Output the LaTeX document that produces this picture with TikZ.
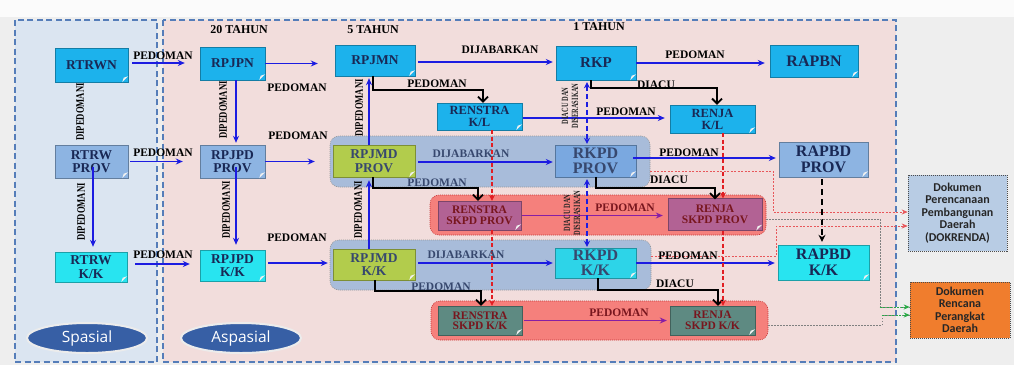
\documentclass[tikz,border=0pt]{standalone}
\usepackage{fontspec}
\setmainfont{Liberation Serif}
\newfontfamily\osans{Open Sans}
\newfontfamily\carl{Carlito}
\usetikzlibrary{arrows.meta,calc,shapes.geometric}

\definecolor{bg}{RGB}{238,238,238}
\definecolor{panelL}{RGB}{219,229,241}
\definecolor{panelR}{RGB}{242,221,220}
\definecolor{dashc}{RGB}{85,125,185}
\definecolor{cyanN}{RGB}{28,178,236}
\definecolor{provB}{RGB}{141,180,226}
\definecolor{provB2}{RGB}{122,168,224}
\definecolor{kkT}{RGB}{40,228,240}
\definecolor{kkT2}{RGB}{45,212,232}
\definecolor{greenM}{RGB}{178,204,76}
\definecolor{mauve}{RGB}{178,98,148}
\definecolor{tealg}{RGB}{94,138,130}
\definecolor{grpB}{RGB}{168,188,218}
\definecolor{grpP}{RGB}{245,128,124}
\definecolor{arrB}{RGB}{28,28,225}
\definecolor{arrP}{RGB}{135,30,165}
\definecolor{arrR}{RGB}{225,30,35}
\definecolor{navy}{RGB}{25,40,85}
\definecolor{slate}{RGB}{55,72,110}
\definecolor{maroon}{RGB}{120,22,30}
\definecolor{dokb}{RGB}{184,204,228}
\definecolor{orng}{RGB}{240,125,45}
\definecolor{ellB}{RGB}{55,95,165}
\definecolor{greenA}{RGB}{40,170,70}

\tikzset{
  nd/.style={fill=#1, draw=#1!70!black, line width=0.4pt, inner sep=0pt, align=center,
    text=navy, font=\fontsize{13.5}{13.5}\selectfont\bfseries},
  bigt/.style={font=\fontsize{16}{15.5}\selectfont\bfseries},
  midt/.style={font=\fontsize{12.5}{12}\selectfont\bfseries},
  smt/.style={font=\fontsize{11.5}{10.5}\selectfont\bfseries},
  lbl/.style={font=\fontsize{11.5}{12}\selectfont\bfseries, inner sep=0pt, text=black},
  vlbl/.style={rotate=90, font=\fontsize{11.5}{12}\selectfont\bfseries, inner sep=0pt, text=black},
  vlbl2/.style={rotate=90, font=\fontsize{9.5}{10}\selectfont\bfseries, inner sep=0pt, align=center, text=black!85},
  panel/.style={draw=dashc, line width=1.5pt, dash pattern=on 6pt off 3.5pt},
  grpb/.style={fill=grpB, draw=gray!80, line width=0.6pt, dash pattern=on 1pt off 1pt, rounded corners=9pt, inner sep=0pt},
  grpp/.style={fill=grpP, draw=red!55!gray, line width=0.6pt, dash pattern=on 1pt off 1pt, rounded corners=9pt, inner sep=0pt},
  barrow/.style={draw=arrB, line width=1.6pt, -{Stealth[length=7pt,width=6pt]}},
  parrow/.style={draw=arrP, line width=1.6pt, -{Stealth[length=7pt,width=6pt]}},
  karrow/.style={draw=black, line width=1.8pt, -{Straight Barb[length=5pt,width=10pt,line width=1.8pt]}},
  rdash/.style={draw=arrR, line width=1.8pt, dash pattern=on 4pt off 2.5pt, -{Stealth[length=6pt,width=6pt]}},
  bdash/.style={draw=arrB, line width=1.8pt, dash pattern=on 5pt off 3pt, {Stealth[length=6pt,width=6pt]}-{Stealth[length=6pt,width=6pt]}},
  kdash/.style={draw=black, line width=2.4pt, dash pattern=on 6pt off 4pt, -{Stealth[length=7pt,width=7pt]}},
  thinr/.style={draw=arrR!75, line width=0.7pt, dash pattern=on 2pt off 1.5pt, -{Stealth[length=6pt,width=5pt]}},
  thing/.style={draw=gray, line width=0.7pt, dash pattern=on 1.5pt off 1.5pt},
  gdash/.style={draw=greenA, line width=0.8pt, dash pattern=on 2pt off 1.5pt, -{Stealth[length=6pt,width=5pt]}},
  ell/.style={ellipse, fill=ellB, draw=white!85!gray, line width=2pt, text=white,
    font=\osans\fontsize{15.5}{16}\selectfont, minimum width=120pt, minimum height=30pt, inner sep=0pt},
  dok/.style={draw=black!70, line width=0.6pt, dash pattern=on 1pt off 1pt, align=center, inner sep=0pt,
    font=\carl\bfseries\fontsize{12}{12.5}\selectfont, text=black!85},
}

\begin{document}
\begin{tikzpicture}[x=1pt,y=-1pt]
\useasboundingbox (0,0) rectangle (1014,365);
\fill[bg] (0,0) rectangle (1014,365);
\fill[white!97!gray] (0,0) rectangle (1014,17);

% panels
\draw[panel, fill=panelL] (15,20) rectangle (157,362);
\draw[panel, fill=panelR] (163,20) rectangle (896,362);

% period headings
\node[lbl, font=\fontsize{12}{12}\selectfont\bfseries] (t20) at (239,30) {20 TAHUN};
\node[lbl, font=\fontsize{12}{12}\selectfont\bfseries] (t5) at (373,30) {5 TAHUN};
\node[lbl, font=\fontsize{12}{12}\selectfont\bfseries] (t1) at (599,27) {1 TAHUN};

% groups
\node[grpb, minimum width=320pt, minimum height=51pt] (gprov) at (490,161.5) {};
\node[grpb, minimum width=321pt, minimum height=50pt] (gkk) at (490.5,265) {};
\node[grpp, minimum width=336pt, minimum height=40pt] (pprov) at (598,215) {};
\node[grpp, minimum width=337pt, minimum height=39pt] (pkk) at (599.5,320.5) {};

% nodes
\node[nd=cyanN, minimum width=73pt, minimum height=34pt] (RTRWN) at (91.5,65) {RTRWN};
\node[nd=cyanN, minimum width=65pt, minimum height=33pt] (RPJPN) at (232.5,63.5) {RPJPN};
\node[nd=provB, minimum width=73pt, minimum height=33pt] (RTRWprov) at (91.5,161.5) {RTRW\\PROV};
\node[nd=provB, minimum width=65pt, minimum height=33pt] (RPJPDprov) at (232.5,161.5) {RPJPD\\PROV};
\node[nd=kkT, minimum width=72pt, minimum height=30pt] (RTRWkk) at (91,267) {RTRW\\K/K};
\node[nd=kkT, minimum width=65pt, minimum height=31pt] (RPJPDkk) at (232.5,265.5) {RPJPD\\K/K};
\node[nd=cyanN, minimum width=80pt, minimum height=31pt] (RPJMN) at (375,60.5) {RPJMN};
\node[nd=cyanN, bigt, font=\fontsize{15}{15}\selectfont\bfseries, minimum width=80pt, minimum height=34pt] (RKP) at (596,63) {RKP};
\node[nd=cyanN, bigt, minimum width=88pt, minimum height=32pt] (RAPBN) at (814,61) {RAPBN};
\node[nd=cyanN, midt, minimum width=85pt, minimum height=27pt] (RENSTRAKL) at (479.5,116.5) {RENSTRA\\K/L};
\node[nd=cyanN, midt, minimum width=85pt, minimum height=28pt] (RENJAKL) at (712.5,119) {RENJA\\K/L};
\node[nd=greenM, text=slate, minimum width=82pt, minimum height=32pt] (RPJMDprov) at (374,161) {RPJMD\\PROV};
\node[nd=provB2, bigt, text=slate, minimum width=81pt, minimum height=32pt] (RKPDprov) at (595.5,161) {RKPD\\PROV};
\node[nd=provB, bigt, minimum width=89pt, minimum height=35pt] (RAPBDprov) at (823.5,159.5) {RAPBD\\PROV};
\node[nd=mauve, smt, text=maroon, minimum width=83pt, minimum height=29pt] (RENSTRASKPDprov) at (479.5,215.5) {RENSTRA\\SKPD PROV};
\node[nd=mauve, smt, text=maroon, minimum width=94pt, minimum height=32pt] (RENJASKPDprov) at (715,214.5) {RENJA\\SKPD PROV};
\node[nd=greenM, text=slate, minimum width=82pt, minimum height=31pt] (RPJMDkk) at (374,264.5) {RPJMD\\K/K};
\node[nd=kkT2, bigt, text=slate, minimum width=81pt, minimum height=30pt] (RKPDkk) at (595.5,263) {RKPD\\K/K};
\node[nd=kkT, bigt, minimum width=91pt, minimum height=35pt] (RAPBDkk) at (823.5,262.5) {RAPBD\\K/K};
\node[nd=tealg, smt, text=maroon, minimum width=84pt, minimum height=29pt] (RENSTRASKPDkk) at (480,320.5) {RENSTRA\\SKPD K/K};
\node[nd=tealg, smt, text=maroon, minimum width=85pt, minimum height=29pt] (RENJASKPDkk) at (712.5,320.5) {RENJA\\SKPD K/K};

% folded corners
\foreach \n in {RTRWN,RPJPN,RTRWprov,RPJPDprov,RTRWkk,RPJPDkk,RPJMN,RKP,RAPBN,RENSTRAKL,RENJAKL,RPJMDprov,RKPDprov,RAPBDprov,RENSTRASKPDprov,RENJASKPDprov,RPJMDkk,RKPDkk,RAPBDkk,RENSTRASKPDkk,RENJASKPDkk}{
  \fill[white!88!gray] ($(\n.south east)+(-6,0)$) -- ($(\n.south east)+(0,-6)$) -- ($(\n.south east)+(-4.5,-4.5)$) -- cycle;
}

% right boxes
\node[dok, fill=dokb, minimum width=99pt, minimum height=76pt] (DOK) at (957.5,213) {Dokumen\\Perencanaan\\Pembangunan\\Daerah\\(DOKRENDA)};
\node[dok, fill=orng, minimum width=100pt, minimum height=56pt] (DRPD) at (960,310) {Dokumen\\Rencana\\Perangkat\\Daerah};

% ellipses
\node[ell] (spa) at (87,338) {Spasial};
\node[ell] (aspa) at (241,338) {Aspasial};

% blue horizontal arrows
\draw[barrow, shorten <=4pt, shorten >=15pt] ([yshift=2pt]RTRWN.east) -- ([yshift=2pt]RTRWN.east -| RPJPN.west);
\draw[barrow, shorten >=17pt] (RPJPN.east) -- (RPJPN.east -| RPJMN.west);
\draw[barrow, shorten <=2pt, shorten >=17pt] (RTRWprov.east) -- (RTRWprov.east -| RPJPDprov.west);
\draw[barrow, shorten >=18pt] (RPJPDprov.east) -- (RPJPDprov.east -| RPJMDprov.west);
\draw[barrow, shorten <=8pt, shorten >=10pt] ([yshift=3pt]RTRWkk.east) -- ([yshift=3pt]RTRWkk.east -| RPJPDkk.west);
\draw[barrow, shorten <=3pt, shorten >=5pt] ([yshift=2.5pt]RPJPDkk.east) -- ([yshift=2.5pt]RPJPDkk.east -| RPJMDkk.west);
\draw[barrow, shorten <=3pt, shorten >=3pt] ([yshift=-1.5pt]RPJMN.east) -- ([yshift=-1.5pt]RPJMN.east -| RKP.west);
\draw[barrow, shorten >=5pt] (RKP.east) -- (RKP.east -| RAPBN.west);
\draw[barrow, shorten <=1pt, shorten >=5pt] ([yshift=-1.5pt]RENSTRAKL.east) -- ([yshift=-1.5pt]RENSTRAKL.east -| RENJAKL.west);
\draw[barrow, shorten <=3pt, shorten >=2pt] ([yshift=-1pt]RPJMDprov.east) -- ([yshift=-1pt]RPJMDprov.east -| RKPDprov.west);
\draw[barrow, shorten <=-3pt, shorten >=3pt] ([yshift=3pt]RKPDprov.east) -- ([yshift=3pt]RKPDprov.east -| RAPBDprov.west);
\draw[barrow, shorten <=3pt, shorten >=2pt] ([yshift=1.5pt]RPJMDkk.east) -- ([yshift=1.5pt]RPJMDkk.east -| RKPDkk.west);
\draw[barrow, shorten >=3pt] (RKPDkk.east) -- (RKPDkk.east -| RAPBDkk.west);
\draw[parrow, shorten <=1pt, shorten >=5pt] (RENSTRASKPDprov.east) -- (RENSTRASKPDprov.east -| RENJASKPDprov.west);
\draw[parrow, shorten <=2pt, shorten >=3pt] (RENSTRASKPDkk.east) -- (RENSTRASKPDkk.east -| RENJASKPDkk.west);

% blue vertical arrows
\draw[barrow, shorten >=2pt] ([xshift=3.5pt]RPJPN.south) -- ([xshift=3.5pt]RPJPDprov.north);
\draw[barrow, shorten >=2pt] ([xshift=-5pt]RPJMDprov.north) -- ([xshift=-6pt]RPJMN.south);
\draw[barrow, shorten >=3pt] ([xshift=-5pt]RPJMDkk.north) -- ([xshift=-5pt]RPJMDprov.south);
\draw[barrow, shorten >=5pt] ([xshift=1.5pt,yshift=-5.5pt]RTRWprov.center) -- ([xshift=2pt]RTRWkk.north);
\draw[barrow, shorten >=5pt] ([xshift=3.5pt,yshift=-5.5pt]RPJPDprov.center) -- ([xshift=3.5pt]RPJPDkk.north);

% black elbow arrows
\draw[karrow] ([xshift=-2pt]RPJMN.south) -- ++(0,14) -| ([xshift=3.5pt]RENSTRAKL.north);
\draw[karrow] ([xshift=-5pt]RKP.south) -- ++(0,8) -| ([xshift=4.5pt]RENJAKL.north);
\draw[karrow] ([xshift=-1pt]RPJMDprov.south) -- ++(0,11) -| ([xshift=-1.5pt]RENSTRASKPDprov.north);
\draw[karrow] ([xshift=0.5pt]RKPDprov.south) -- ++(0,11) -| ([yshift=-1pt]RENJASKPDprov.north);
\draw[karrow] ([xshift=1pt]RPJMDkk.south) -- ++(0,11) -| ([xshift=1pt]RENSTRASKPDkk.north);
\draw[karrow] ([xshift=2.5pt]RKPDkk.south) -- ++(0,12) -| ([xshift=5.5pt]RENJASKPDkk.north);

% red dashed
\draw[rdash] ([xshift=12.5pt]RENSTRAKL.south) -- ([xshift=12.5pt]RENSTRASKPDprov.north);
\draw[rdash] ([xshift=12.5pt]RENSTRASKPDprov.south) -- ([xshift=12pt]RENSTRASKPDkk.north);
\draw[rdash] ([xshift=10.5pt]RENJAKL.south) -- ([xshift=8pt]RENJASKPDprov.north);
\draw[rdash] ([xshift=8pt]RENJASKPDprov.south) -- ([xshift=10.5pt]RENJASKPDkk.north);

% blue dashed double
\draw[bdash, shorten <=2pt, shorten >=1pt] ([xshift=-9pt]RKP.south) -- ([xshift=-8.5pt]RKPDprov.north);
\draw[bdash, shorten <=2pt, shorten >=1pt] ([xshift=-8.5pt]RKPDprov.south) -- ([xshift=-8.5pt]RKPDkk.north);

% black dashed
\draw[kdash, shorten <=2pt, shorten >=3pt] ([xshift=-1.5pt]RAPBDprov.south) -- ([xshift=-1.5pt]RAPBDkk.north);

% thin connectors to right boxes
\draw[thinr] ([yshift=-9.5pt]gprov.east) -- ++(123,0) |- ([yshift=1pt]DOK.west);
\draw[thinr] ([yshift=9pt]gkk.east) -- ++(125,0) |- ([yshift=-13pt]DOK.west);
\draw[thing] ([yshift=-4pt]pprov.east) -- ++(114,0) |- ([yshift=3pt]DRPD.west);
\draw[thing] ([yshift=-4.5pt]pkk.east) -- ++(114,0) |- ([yshift=-5pt]DRPD.west);
\draw[gdash] ([xshift=-30pt,yshift=3pt]DRPD.west) -- ([yshift=3pt]DRPD.west);
\draw[gdash] ([xshift=-28pt,yshift=-5pt]DRPD.west) -- ([yshift=-5pt]DRPD.west);

% labels
\node[lbl] (l1) at (163,56) {PEDOMAN};
\node[lbl] (l2) at (297,88) {PEDOMAN};
\node[lbl] (l3) at (163,153) {PEDOMAN};
\node[lbl] (l4) at (298,136) {PEDOMAN};
\node[lbl] (l5) at (163,255) {PEDOMAN};
\node[lbl] (l6) at (297,238) {PEDOMAN};
\node[lbl] (l7) at (500,50) {DIJABARKAN};
\node[lbl] (l8) at (695,55) {PEDOMAN};
\node[lbl] (l9) at (437,84) {PEDOMAN};
\node[lbl] (l10) at (656,85) {DIACU};
\node[lbl] (l11) at (626,112) {PEDOMAN};
\node[lbl, text=slate] (l12) at (471,154) {DIJABARKAN};
\node[lbl] (l13) at (689,153) {PEDOMAN};
\node[lbl, text=slate] (l14) at (437,183) {PEDOMAN};
\node[lbl] (l15) at (669,180) {DIACU};
\node[lbl, text=maroon] (l16) at (625,208) {PEDOMAN};
\node[lbl, text=slate] (l17) at (466,255) {DIJABARKAN};
\node[lbl, text=slate] (l18) at (441,287) {PEDOMAN};
\node[lbl] (l19) at (688,256) {PEDOMAN};
\node[lbl] (l20) at (675,284) {DIACU};
\node[lbl, text=maroon] (l21) at (619,313) {PEDOMAN};

\node[vlbl] (v1) at (80,112) {\scalebox{0.75}[1]{DIPEDOMANI}};
\node[vlbl] (v2) at (81,212) {\scalebox{0.75}[1]{DIPEDOMANI}};
\node[vlbl] (v3) at (223,110) {\scalebox{0.75}[1]{DIPEDOMANI}};
\node[vlbl] (v4) at (226,210) {\scalebox{0.75}[1]{DIPEDOMANI}};
\node[vlbl] (v5) at (359,108) {\scalebox{0.75}[1]{DIPEDOMANI}};
\node[vlbl] (v6) at (358,210) {\scalebox{0.75}[1]{DIPEDOMANI}};
\node[vlbl2] (v7) at (570,106) {\scalebox{0.68}[1]{DIACU DAN}\\\scalebox{0.68}[1]{DISERASIKAN}};
\node[vlbl2] (v8) at (572,213) {\scalebox{0.68}[1]{DIACU DAN}\\\scalebox{0.68}[1]{DISERASIKAN}};
\end{tikzpicture}
\end{document}
